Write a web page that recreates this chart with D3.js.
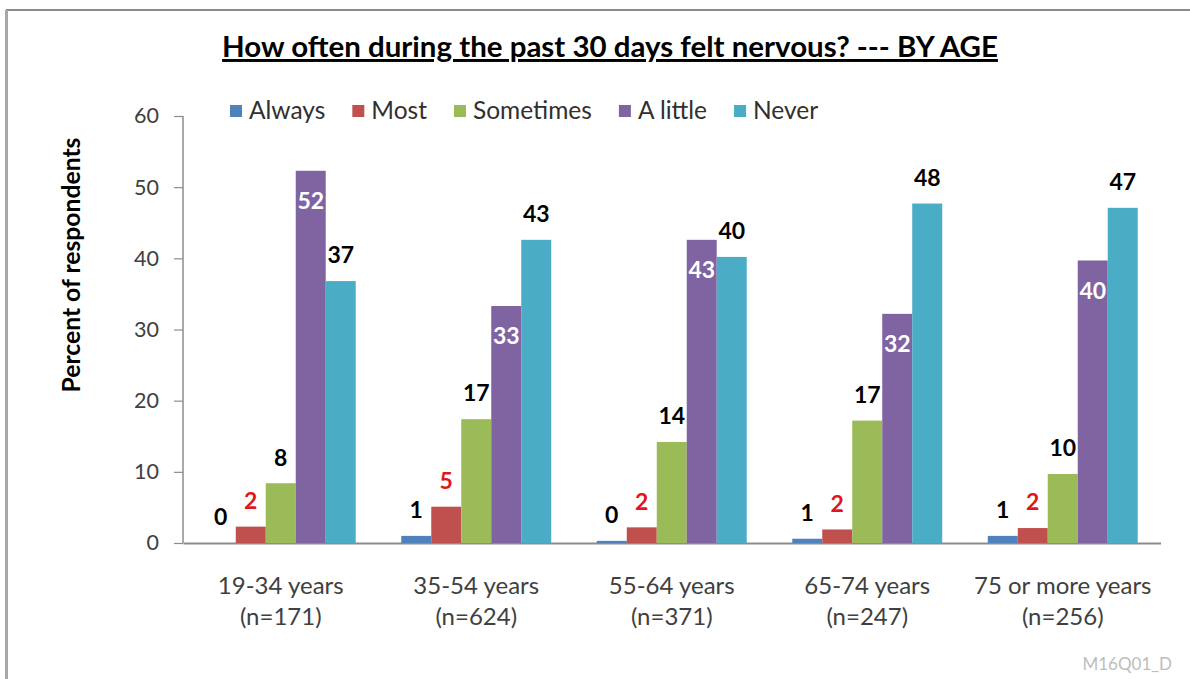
<!DOCTYPE html>
<html>
<head>
<meta charset="utf-8">
<script src="https://cdn.jsdelivr.net/npm/d3@7"></script>
<style>
  html, body { margin: 0; padding: 0; background: #fff; }
  svg { display: block; font-family: Lato, "Open Sans", sans-serif; }
</style>
</head>
<body>
<svg id="chart" width="1190" height="679"></svg>
<script>
// ---- data ----
const categories = ["19-34 years", "35-54 years", "55-64 years", "65-74 years", "75 or more years"];
const sampleSizes = ["(n=171)", "(n=624)", "(n=371)", "(n=247)", "(n=256)"];
const seriesNames = ["Always", "Most", "Sometimes", "A little", "Never"];
const always    = [0.0, 1.0, 0.3, 0.6, 1.0];
const most      = [2.3, 5.1, 2.2, 1.9, 2.1];
const sometimes = [8.4, 17.4, 14.2, 17.2, 9.7];
const aLittle   = [52.3, 33.3, 42.6, 32.2, 39.7];
const never     = [36.8, 42.6, 40.2, 47.7, 47.1];
const yTicks = [0, 10, 20, 30, 40, 50, 60];
const titleText = "How often during the past 30 days felt nervous? --- BY AGE";
const yTitle = "Percent of respondents";
const codeText = "M16Q01_D";

const seriesValues = [always, most, sometimes, aLittle, never];
const colors = ["#4F81BD", "#C0504D", "#9BBB59", "#8064A2", "#4BACC6"];
const labelColors = ["#000000", "#E0161B", "#000000", "#FFFFFF", "#000000"];

const svg = d3.select("#chart");

function fit(sel, target) {
  const node = sel.node();
  const fs = parseFloat(sel.attr("font-size"));
  const w = node.getComputedTextLength();
  sel.attr("font-size", (fs * target / w).toFixed(2));
}

// frame
svg.append("line").attr("x1", 6).attr("x2", 1190).attr("y1", 10).attr("y2", 10)
  .attr("stroke", "#8a8a8a").attr("stroke-width", 2);
svg.append("line").attr("x1", 6.5).attr("x2", 6.5).attr("y1", 10).attr("y2", 679)
  .attr("stroke", "#a8a8a8").attr("stroke-width", 3);

// scales
const x0 = d3.scaleBand().domain(categories).range([183, 1160.5])
  .paddingInner(0.233).paddingOuter(0.1165);
const x1 = d3.scaleBand().domain(seriesNames).range([0, x0.bandwidth()]).padding(0);
const y = d3.scaleLinear().domain([0, 60]).range([543, 116]);

// y axis
const yAxis = svg.append("g").attr("transform", "translate(183,0)")
  .call(d3.axisLeft(y).tickValues(yTicks).tickSize(9).tickPadding(15));
yAxis.select(".domain").attr("stroke", "#8c8c8c").attr("stroke-width", 1.5)
  .attr("d", `M0,${y(60)}V${y(0)}`);
yAxis.selectAll(".tick line").attr("stroke", "#8c8c8c").attr("stroke-width", 1.2);
yAxis.selectAll(".tick text").attr("fill", "#404040").attr("font-size", 21.5)
  .attr("font-family", "Lato");

// x axis
const xAxis = svg.append("g").attr("transform", `translate(0,${y(0)})`)
  .call(d3.axisBottom(x0).tickSize(0).tickFormat(""));
xAxis.select(".domain").attr("stroke", "#8c8c8c").attr("stroke-width", 2);

// category labels
const catG = svg.append("g");
categories.forEach((c, i) => {
  const cx = x0(c) + x0.bandwidth() / 2;
  catG.append("text").attr("x", cx).attr("y", 594).attr("text-anchor", "middle")
    .attr("fill", "#404040").attr("font-size", 24).text(c);
  catG.append("text").attr("x", cx).attr("y", 625).attr("text-anchor", "middle")
    .attr("fill", "#404040").attr("font-size", 24).text(sampleSizes[i]);
});

// bars
const groups = svg.append("g").selectAll("g").data(categories).join("g")
  .attr("transform", d => `translate(${x0(d)},0)`);
groups.each(function(cat, ci) {
  const g = d3.select(this);
  seriesNames.forEach((s, si) => {
    const v = seriesValues[si][ci];
    g.append("rect").attr("x", x1(s)).attr("width", x1.bandwidth())
      .attr("y", y(v)).attr("height", y(0) - y(v)).attr("fill", colors[si]);
    const inside = si === 3;
    g.append("text")
      .attr("x", x1(s) + x1.bandwidth() / 2)
      .attr("y", inside ? y(v) + 30 : y(v) - 26)
      .attr("dy", "0.36em")
      .attr("text-anchor", "middle")
      .attr("font-weight", "bold")
      .attr("font-size", 23)
      .attr("fill", labelColors[si])
      .text(Math.round(v));
  });
});

// legend
const leg = svg.append("g");
let lx = 230;
seriesNames.forEach((s, i) => {
  leg.append("rect").attr("x", lx).attr("y", 105).attr("width", 12).attr("height", 12)
    .attr("fill", colors[i]);
  const t = leg.append("text").attr("x", lx + 19).attr("y", 118.5)
    .attr("fill", "#303030").attr("font-size", 24.5).text(s);
  lx += 19 + t.node().getComputedTextLength() + 27;
});

// title
const title = svg.append("text").attr("x", 610).attr("y", 57).attr("text-anchor", "middle")
  .attr("font-weight", "bold").attr("font-size", 26).attr("fill", "#000")
  .style("text-decoration", "underline").text(titleText);
fit(title, 776);

// y title
const yt = svg.append("text").attr("transform", "translate(80,265) rotate(-90)")
  .attr("text-anchor", "middle").attr("font-weight", "bold").attr("font-size", 22)
  .attr("fill", "#000").text(yTitle);
fit(yt, 255);

// code
svg.append("text").attr("x", 1172).attr("y", 670).attr("text-anchor", "end")
  .attr("font-size", 17).attr("fill", "#bdbdbd").text(codeText);
</script>
</body>
</html>
